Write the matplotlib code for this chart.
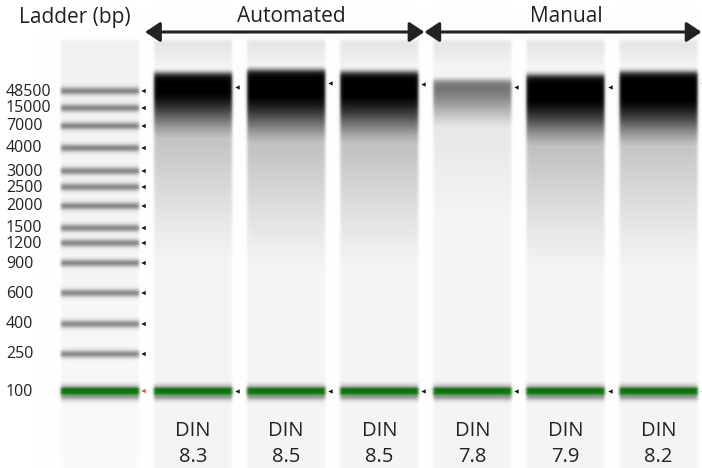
import numpy as np
import matplotlib
matplotlib.use("Agg")
import matplotlib.pyplot as plt

plt.rcParams['font.family'] = ['Open Sans', 'DejaVu Sans']

# ladder: size (bp) and band position (px from top of picture)
ladder_bp = [48500, 15000, 7000, 4000, 3000, 2500, 2000, 1500, 1200, 900, 600, 400, 250, 100]
ladder_pos = [91, 108, 126, 148, 171, 187, 206, 228, 243, 263, 293, 324, 354, 391]

# samples
groups = ["Automated", "Manual"]
group_size = [3, 3]
din = [8.3, 8.5, 8.5, 7.8, 7.9, 8.2]
smear_top = [73, 70, 72, 80, 75, 72]
smear_peak = [1.0, 1.0, 1.0, 0.55, 1.0, 1.0]
smear_plateau = [93, 96, 96, 88, 100, 100]
smear_fade = [140, 145, 145, 130, 148, 148]
smear_tail = [0.22, 0.23, 0.23, 0.08, 0.23, 0.21]
peak_marker = [87, 83, 84, 87, 87, 83]
lower_marker = 391

W, H = 702, 468
lane_x0 = 61
lane_step = 93.1
lane_w = 78
gel_top = 40
txt = '#222222'

yy = np.arange(H) + 0.5
xx = np.arange(W) + 0.5


def sig(t):
    return 1.0 / (1.0 + np.exp(-t))


def lane_mask(i):
    x0 = lane_x0 + i * lane_step
    mx = sig((xx - x0) / 0.8) * sig((x0 + lane_w - xx) / 0.8)
    my = sig((yy - gel_top) / 1.0)
    return np.outer(my, mx)


dark = np.zeros((H, W))
green = np.zeros((H, W))

# halo around the lower marker + the green band itself
halo = 0.22 * np.exp(-0.5 * ((yy - (lower_marker - 4)) / 2.5) ** 2) \
    + 0.38 * np.exp(-0.5 * ((yy - (lower_marker + 5)) / 3.0) ** 2)
gband = sig((yy - (lower_marker - 3.5)) / 0.6) * sig(((lower_marker + 3.5) - yy) / 0.6)

# ladder lane
prof = 0.055 - 0.035 * (yy - gel_top) / (H - gel_top)
for bp, p in zip(ladder_bp, ladder_pos):
    if bp == 100:
        continue
    prof = prof + 0.42 * np.exp(-0.5 * ((yy - p) / 2.7) ** 2)
prof = prof + halo
m = lane_mask(0)
dark += m * prof[:, None]
green += m * gband[:, None]

# sample lanes
for k in range(len(din)):
    top = 0.10 - 0.06 * np.clip((yy - gel_top - 5) / 22, 0, 1)
    edge = sig((yy - smear_top[k]) / 1.8)
    t = np.clip((yy - smear_plateau[k]) / (smear_fade[k] - smear_plateau[k]), 0, 1)
    t = 0.5 * t + 0.5 * t * t * (3 - 2 * t)
    body = (smear_peak[k] * (1 - t) + smear_tail[k] * t) * edge
    tail_t = np.clip((yy - smear_fade[k]) / 150, 0, 1)
    body = np.where(yy > smear_fade[k], smear_tail[k] * (1 - tail_t) ** 1.3 + 0.015, body)
    prof = np.maximum(top, body) + halo
    m = lane_mask(k + 1)
    dark += m * prof[:, None]
    green += m * gband[:, None]

dark = np.clip(dark, 0, 1)
green = np.clip(green, 0, 1)
gray = 1 - dark
rgb = np.dstack([gray, gray, gray])
gcol = np.array([0.03, 0.46, 0.03])
rgb = rgb * (1 - green[..., None]) + gcol * green[..., None]

fig = plt.figure(figsize=(W / 100, H / 100), dpi=100)
ax = fig.add_axes([0, 0, 1, 1])
ax.imshow(rgb, extent=[0, W, H, 0], interpolation='bilinear', aspect='auto')
ax.set_xlim(0, W)
ax.set_ylim(H, 0)
ax.axis('off')

# peak markers
ladder_right = lane_x0 + lane_w
mcols = ['#111111'] * (len(ladder_bp) - 1) + ['#ff4a1a']
ax.scatter([ladder_right + 4.5] * len(ladder_pos), ladder_pos, marker='<', s=10, c=mcols, linewidths=0)
for k in range(len(din)):
    xr = lane_x0 + (k + 1) * lane_step + lane_w + 5
    ax.scatter([xr, xr], [peak_marker[k], lower_marker], marker='<', s=10, c='#111111', linewidths=0)

# ladder labels
ax.text(19, 18, "Ladder (bp)", fontsize=15, color=txt, ha='left', va='center')
for bp, p in zip(ladder_bp, ladder_pos):
    ax.text(6, p + 0.5, str(bp), fontsize=11.5, color=txt, ha='left', va='center')

# group arrows
start = 1
label_shift = [7, 3]
for g, n, dx in zip(groups, group_size, label_shift):
    x0 = lane_x0 + start * lane_step - 9
    x1 = lane_x0 + (start + n) * lane_step - 9
    x1 = min(x1, W - 0.5)
    ax.annotate('', xy=(x1, 32), xytext=(x0, 32),
                arrowprops=dict(arrowstyle='<|-|>,head_length=0.45,head_width=0.3',
                                lw=2.2, color=txt, mutation_scale=20,
                                shrinkA=0, shrinkB=0))
    ax.text((x0 + x1) / 2 + dx, 17, g, fontsize=15, color=txt, ha='center', va='center')
    start += n

# DIN labels
for k, v in enumerate(din):
    xc = lane_x0 + (k + 1) * lane_step + lane_w / 2
    ax.text(xc, 431, "DIN", fontsize=14.5, color=txt, ha='center', va='center')
    ax.text(xc, 457, f"{v:.1f}", fontsize=14.5, color=txt, ha='center', va='center')

fig.savefig('out.png', dpi=100)
